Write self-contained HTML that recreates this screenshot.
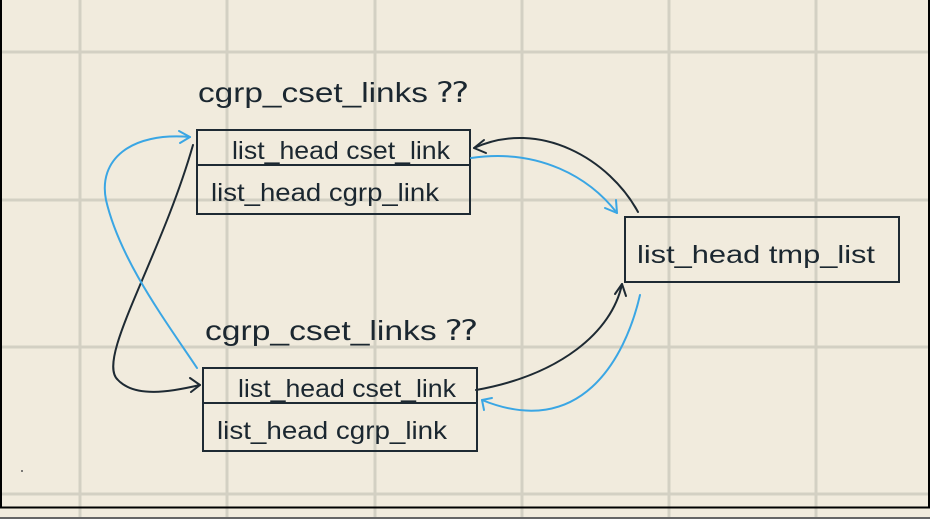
<!DOCTYPE html>
<html><head><style>
html,body{margin:0;padding:0;background:#f1ebdd;}
svg{display:block}
text{font-family:"Liberation Sans Narrow","Liberation Sans",sans-serif;fill:#1b2730;}
</style></head><body>
<svg width="930" height="519" viewBox="0 0 930 519" xmlns="http://www.w3.org/2000/svg">
<rect width="930" height="519" fill="#f1ebdd"/>
<g stroke="#d3d0c3" stroke-width="3">
<line x1="80" y1="0" x2="80" y2="519"/>
<line x1="227" y1="0" x2="227" y2="519"/>
<line x1="375" y1="0" x2="375" y2="519"/>
<line x1="522" y1="0" x2="522" y2="519"/>
<line x1="669" y1="0" x2="669" y2="519"/>
<line x1="816" y1="0" x2="816" y2="519"/>
<line x1="0" y1="52" x2="930" y2="52"/>
<line x1="0" y1="200" x2="930" y2="200"/>
<line x1="0" y1="347" x2="930" y2="347"/>
<line x1="0" y1="494" x2="930" y2="494"/>
</g>
<line x1="1" y1="0" x2="1" y2="508" stroke="#000" stroke-width="2"/>
<line x1="929" y1="0" x2="929" y2="508" stroke="#000" stroke-width="2"/>
<line x1="0" y1="507.5" x2="930" y2="507.5" stroke="#000" stroke-width="2"/>
<rect x="0" y="517" width="930" height="2" fill="#666"/>

<g fill="none" stroke="#1e2a33" stroke-width="2">
<rect x="197" y="130" width="273" height="84"/>
<line x1="197" y1="165" x2="470" y2="165"/>
<rect x="203" y="368" width="274" height="83"/>
<line x1="203" y1="403" x2="477" y2="403"/>
<rect x="625" y="217" width="274" height="65"/>
</g>

<g font-size="28">
<text x="198" y="102" textLength="270" lengthAdjust="spacingAndGlyphs">cgrp_cset_links ⁇</text>
<text x="205" y="340" textLength="272" lengthAdjust="spacingAndGlyphs">cgrp_cset_links ⁇</text>
</g>
<g font-size="25">
<text x="232" y="159" textLength="218" lengthAdjust="spacingAndGlyphs">list_head cset_link</text>
<text x="211" y="201" textLength="228" lengthAdjust="spacingAndGlyphs">list_head cgrp_link</text>
<text x="238" y="397" textLength="218" lengthAdjust="spacingAndGlyphs">list_head cset_link</text>
<text x="217" y="439" textLength="230" lengthAdjust="spacingAndGlyphs">list_head cgrp_link</text>
<text x="637" y="263" textLength="238" lengthAdjust="spacingAndGlyphs">list_head  tmp_list</text>
</g>

<g fill="none" stroke-width="2" stroke-linecap="round" stroke-linejoin="round">
<path d="M638,212 C610,160 540,118 474,148" stroke="#1e2a33"/>
<path d="M484,140 L474,148 L486,153" stroke="#1e2a33"/>
<path d="M471,158 C540,148 590,178 617,213" stroke="#3aa6e4"/>
<path d="M605,208 L617,213 L616,200" stroke="#3aa6e4"/>
<path d="M476,390 C560,375 612,332 622,284" stroke="#1e2a33"/>
<path d="M615,294 L622,284 L626,296" stroke="#1e2a33"/>
<path d="M640,295 C625,360 580,440 482,400" stroke="#3aa6e4"/>
<path d="M484,410 L482,400 L492,398" stroke="#3aa6e4"/>
<path d="M193,145 C160,260 95,360 118,380 C135,398 170,392 200,385" stroke="#1e2a33"/>
<path d="M190,378 L200,385 L191,392" stroke="#1e2a33"/>
<path d="M197,368 C165,320 120,260 106,200 C98,160 130,132 190,137" stroke="#3aa6e4"/>
<path d="M179,131 L190,137 L180,143" stroke="#3aa6e4"/>
</g>
<circle cx="22" cy="471" r="1" fill="#555"/>
</svg>
</body></html>
